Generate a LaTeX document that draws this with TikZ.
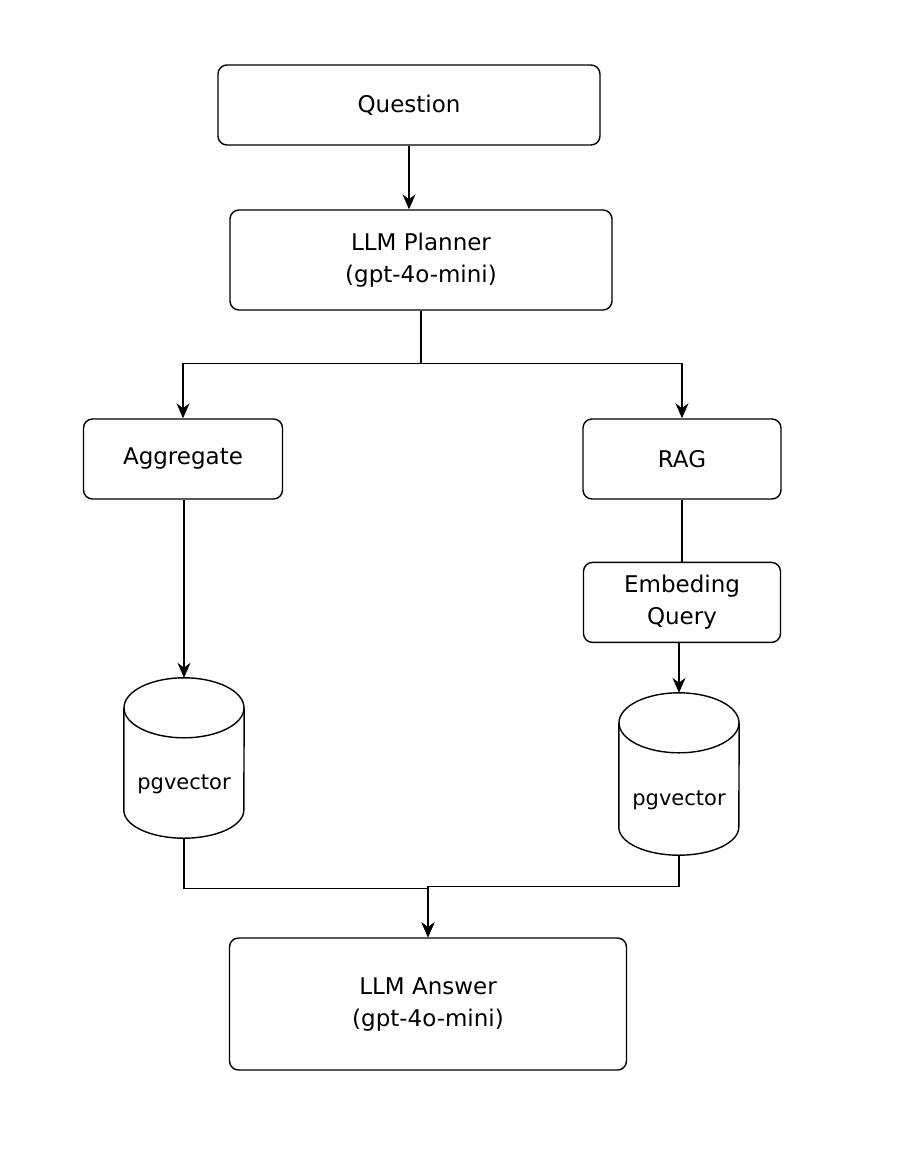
\documentclass[tikz,border=0pt]{standalone}
\usepackage{fontspec}
\setmainfont{DejaVu Sans}
\usetikzlibrary{arrows.meta,positioning}

\begin{document}
\begin{tikzpicture}[
    x=1pt, y=-1pt,
    every node/.style={font=\fontsize{23}{32}\selectfont},
    box/.style={draw, line width=1.4pt, rounded corners=9pt, align=center, inner sep=0pt},
    store/.style={inner sep=0pt, minimum width=120pt},
    flow/.style={-{Stealth[length=15pt,width=13pt]}, line width=1.4pt},
    link/.style={line width=1.4pt}
]
\useasboundingbox (0,0) rectangle (908,1164);
\node[box, minimum width=382pt, minimum height=80pt] (question) at (409,105) {Question};
\node[box, minimum width=382pt, minimum height=100pt] (planner) at (421,260) {LLM Planner\\(gpt-4o-mini)};
\node[box, minimum width=199pt, minimum height=80pt] (aggregate) at (183,459) {Aggregate};
\node[box, minimum width=198pt, minimum height=80pt] (rag) at (682,459) {RAG};
\node[box, minimum width=197pt, minimum height=80pt, below=62pt of rag] (embed) {Embeding\\Query};
\node[store, minimum height=160pt, label={[yshift=-26pt, font=\fontsize{21}{24}\selectfont]center:pgvector}] (pgleft) at (184,758) {};
\node[store, minimum height=162pt, label={[yshift=-26pt, font=\fontsize{21}{24}\selectfont]center:pgvector}] (pgright) at (679,774) {};
\node[box, minimum width=397pt, minimum height=132pt] (answer) at (428,1004) {LLM Answer\\(gpt-4o-mini)};
% cylinder outlines
\foreach \db in {pgleft,pgright}{
  \draw[link] ([yshift=-30pt]\db.north) ellipse [x radius=60, y radius=30];
  \draw[link] ([yshift=-30pt]\db.north west) -- ([yshift=28pt]\db.south west)
    arc [start angle=180, end angle=0, x radius=60, y radius=28] -- ([yshift=-30pt]\db.north east);
}
% planner fork
\draw[flow] (question.south) -- (question.south |- planner.north);
\draw[flow] (planner.south) -- ++(0,53) -| (aggregate.north);
\draw[flow] (planner.south) -- ++(0,53) -| (rag.north);
% retrieval paths
\draw[flow] (pgleft.north |- aggregate.south) -- (pgleft.north);
\draw[link] (rag.south) -- (rag.south |- embed.north);
\draw[flow] (pgright.north |- embed.south) -- (pgright.north);
% merge into answer
\draw[flow] (pgleft.south) -- ++(0,50) -| (answer.north);
\draw[flow] (pgright.south) -- ++(0,31) -| (answer.north);
\end{tikzpicture}
\end{document}
